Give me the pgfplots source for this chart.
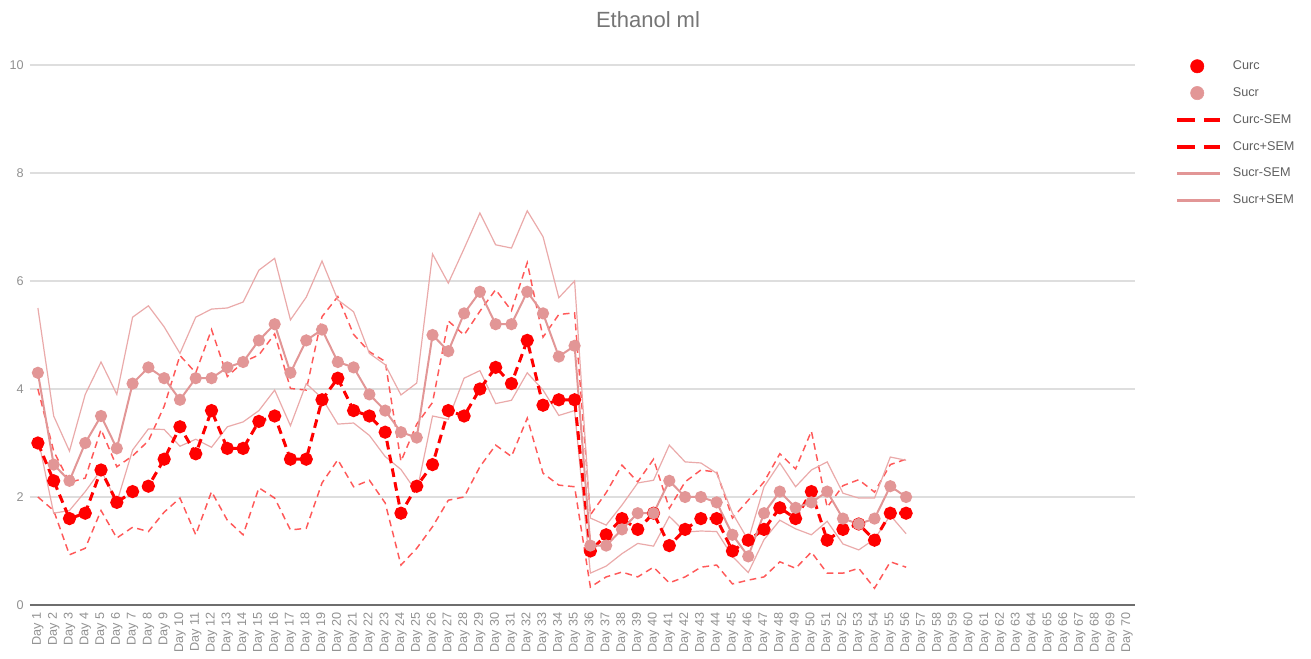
\documentclass[border=0pt]{standalone}
\usepackage{fontspec}
\setmainfont{Liberation Sans}
\usepackage{pgfplots}
\usepackage{pgfplotstable}
\pgfplotsset{compat=1.18}
\definecolor{curc}{RGB}{255,0,0}
\definecolor{curcsem}{RGB}{255,60,60}
\definecolor{sucr}{RGB}{226,150,150}
\definecolor{sucrsem}{RGB}{234,170,170}
\definecolor{lbl}{RGB}{145,145,145}
\definecolor{ttl}{RGB}{117,117,117}
\definecolor{leg}{RGB}{95,95,95}
\definecolor{gridc}{RGB}{222,222,222}
\definecolor{basec}{RGB}{110,110,110}

\pgfplotstableread{
day C CL CU S SL SU
1 3.0 2.00 4.00 4.3 3.10 5.50
2 2.3 1.75 2.85 2.6 1.70 3.50
3 1.6 0.93 2.27 2.3 1.75 2.85
4 1.7 1.05 2.35 3.0 2.10 3.90
5 2.5 1.75 3.25 3.5 2.50 4.50
6 1.9 1.24 2.56 2.9 1.90 3.90
7 2.1 1.44 2.76 4.1 2.87 5.33
8 2.2 1.36 3.04 4.4 3.26 5.54
9 2.7 1.72 3.68 4.2 3.25 5.15
10 3.3 1.98 4.62 3.8 2.94 4.66
11 2.8 1.30 4.30 4.2 3.07 5.33
12 3.6 2.10 5.10 4.2 2.92 5.48
13 2.9 1.57 4.23 4.4 3.30 5.50
14 2.9 1.30 4.50 4.5 3.39 5.61
15 3.4 2.17 4.63 4.9 3.60 6.20
16 3.5 1.98 5.02 5.2 3.98 6.42
17 2.7 1.39 4.01 4.3 3.32 5.28
18 2.7 1.42 3.98 4.9 4.10 5.70
19 3.8 2.26 5.34 5.1 3.83 6.37
20 4.2 2.69 5.71 4.5 3.35 5.65
21 3.6 2.19 5.01 4.4 3.37 5.43
22 3.5 2.31 4.69 3.9 3.14 4.66
23 3.2 1.89 4.51 3.6 2.75 4.45
24 1.7 0.74 2.66 3.2 2.51 3.89
25 2.2 1.05 3.35 3.1 2.09 4.11
26 2.6 1.45 3.75 5.0 3.50 6.50
27 3.6 1.94 5.26 4.7 3.44 5.96
28 3.5 2.00 5.00 5.4 4.20 6.60
29 4.0 2.56 5.44 5.8 4.34 7.26
30 4.4 2.96 5.84 5.2 3.73 6.67
31 4.1 2.75 5.45 5.2 3.79 6.61
32 4.9 3.46 6.34 5.8 4.30 7.30
33 3.7 2.44 4.96 5.4 3.98 6.82
34 3.8 2.22 5.38 4.6 3.51 5.69
35 3.8 2.19 5.41 4.8 3.60 6.00
36 1.0 0.33 1.67 1.1 0.59 1.61
37 1.3 0.52 2.08 1.1 0.72 1.48
38 1.6 0.61 2.59 1.4 0.95 1.85
39 1.4 0.52 2.28 1.7 1.14 2.26
40 1.7 0.70 2.70 1.7 1.09 2.31
41 1.1 0.41 1.79 2.3 1.64 2.96
42 1.4 0.52 2.28 2.0 1.35 2.65
43 1.6 0.70 2.50 2.0 1.37 2.63
44 1.6 0.74 2.46 1.9 1.36 2.44
45 1.0 0.39 1.61 1.3 0.90 1.70
46 1.2 0.46 1.94 0.9 0.60 1.20
47 1.4 0.52 2.28 1.7 1.21 2.19
48 1.8 0.80 2.80 2.1 1.57 2.63
49 1.6 0.68 2.52 1.8 1.41 2.19
50 2.1 0.98 3.22 1.9 1.30 2.50
51 1.2 0.59 1.81 2.1 1.55 2.65
52 1.4 0.59 2.21 1.6 1.13 2.07
53 1.5 0.68 2.32 1.5 1.02 1.98
54 1.2 0.31 2.09 1.6 1.22 1.98
55 1.7 0.80 2.60 2.2 1.66 2.74
56 1.7 0.70 2.70 2.0 1.32 2.68
}\data

\begin{document}
\begin{tikzpicture}
\path[use as bounding box] (0,0) rectangle (983.25pt,494.25pt);
\node[font=\fontsize{16.5}{18}\selectfont, text=ttl] at (486pt,479.25pt) {Ethanol ml};
\begin{axis}[
  at={(22.5pt,40.5pt)}, anchor=south west, scale only axis,
  width=828.75pt, height=405pt,
  xmin=0.5, xmax=70.5, ymin=0, ymax=10,
  clip=false,
  axis line style={draw=none},
  ytick={0,2,4,6,8,10},
  xtick={1,...,70},
  xticklabels={Day 1,Day 2,Day 3,Day 4,Day 5,Day 6,Day 7,Day 8,Day 9,Day 10,Day 11,Day 12,Day 13,Day 14,Day 15,Day 16,Day 17,Day 18,Day 19,Day 20,Day 21,Day 22,Day 23,Day 24,Day 25,Day 26,Day 27,Day 28,Day 29,Day 30,Day 31,Day 32,Day 33,Day 34,Day 35,Day 36,Day 37,Day 38,Day 39,Day 40,Day 41,Day 42,Day 43,Day 44,Day 45,Day 46,Day 47,Day 48,Day 49,Day 50,Day 51,Day 52,Day 53,Day 54,Day 55,Day 56,Day 57,Day 58,Day 59,Day 60,Day 61,Day 62,Day 63,Day 64,Day 65,Day 66,Day 67,Day 68,Day 69,Day 70},
  major tick length=0pt,
  ymajorgrids, grid style={gridc, line width=1.1pt},
  tick label style={text=lbl},
  yticklabel style={font=\fontsize{9.5}{11}\selectfont, inner sep=0pt},
  yticklabel shift=4.5pt,
  xticklabel style={font=\fontsize{9.5}{11}\selectfont, rotate=90, anchor=east, inner sep=0pt},
  xticklabel shift=5.25pt,
  /pgf/number format/assume math mode=true,
  legend style={draw=none, fill=none, at={(1.0362,1.0117)}, anchor=north west, inner sep=0pt, row sep=9.1pt, column sep=8.25pt, font=\fontsize{9.5}{11}\selectfont, text=leg, nodes={inner sep=0pt}},
  legend cell align=left,
]
\addlegendimage{legend image code/.code={\path[draw=none,fill=none] (0pt,-5.5pt) rectangle (32pt,5.5pt); \fill[curc] (15pt,0pt) circle (5pt);}}
\addlegendentry{Curc}
\addlegendimage{legend image code/.code={\path[draw=none,fill=none] (0pt,-5.5pt) rectangle (32pt,5.5pt); \fill[sucr] (15pt,0pt) circle (5pt);}}
\addlegendentry{Sucr}
\addlegendimage{legend image code/.code={\path[draw=none,fill=none] (0pt,-5.5pt) rectangle (32pt,5.5pt); \draw[curc, line width=3pt, dash pattern=on 13pt off 7pt] (0pt,0pt) -- (32pt,0pt);}}
\addlegendentry{Curc-SEM}
\addlegendimage{legend image code/.code={\path[draw=none,fill=none] (0pt,-5.5pt) rectangle (32pt,5.5pt); \draw[curc, line width=3pt, dash pattern=on 13pt off 7pt] (0pt,0pt) -- (32pt,0pt);}}
\addlegendentry{Curc+SEM}
\addlegendimage{legend image code/.code={\path[draw=none,fill=none] (0pt,-5.5pt) rectangle (32pt,5.5pt); \draw[sucr, line width=2.5pt] (0pt,0pt) -- (32pt,0pt);}}
\addlegendentry{Sucr-SEM}
\addlegendimage{legend image code/.code={\path[draw=none,fill=none] (0pt,-5.5pt) rectangle (32pt,5.5pt); \draw[sucr, line width=2.5pt] (0pt,0pt) -- (32pt,0pt);}}
\addlegendentry{Sucr+SEM}

\addplot[forget plot, basec, line width=1.8pt] coordinates {(0.5,0) (70.5,0)};
\addplot[forget plot, curcsem, line width=1.1pt, dash pattern=on 5pt off 3.5pt, opacity=0.85] table[x=day,y=CL]{\data};
\addplot[forget plot, curcsem, line width=1.1pt, dash pattern=on 5pt off 3.5pt, opacity=0.85] table[x=day,y=CU]{\data};
\addplot[forget plot, sucrsem, line width=0.9pt] table[x=day,y=SL]{\data};
\addplot[forget plot, sucrsem, line width=0.9pt] table[x=day,y=SU]{\data};
\addplot[forget plot, curc, line width=2.25pt, dash pattern=on 6.5pt off 4pt, mark=*, mark size=3.8pt, mark options={solid, fill=curc, draw=none}] table[x=day,y=C]{\data};
\addplot[forget plot, sucr, line width=1.5pt, mark=*, mark size=3.8pt, mark options={solid, fill=sucr, draw=none}] table[x=day,y=S]{\data};
\end{axis}
\end{tikzpicture}
\end{document}
